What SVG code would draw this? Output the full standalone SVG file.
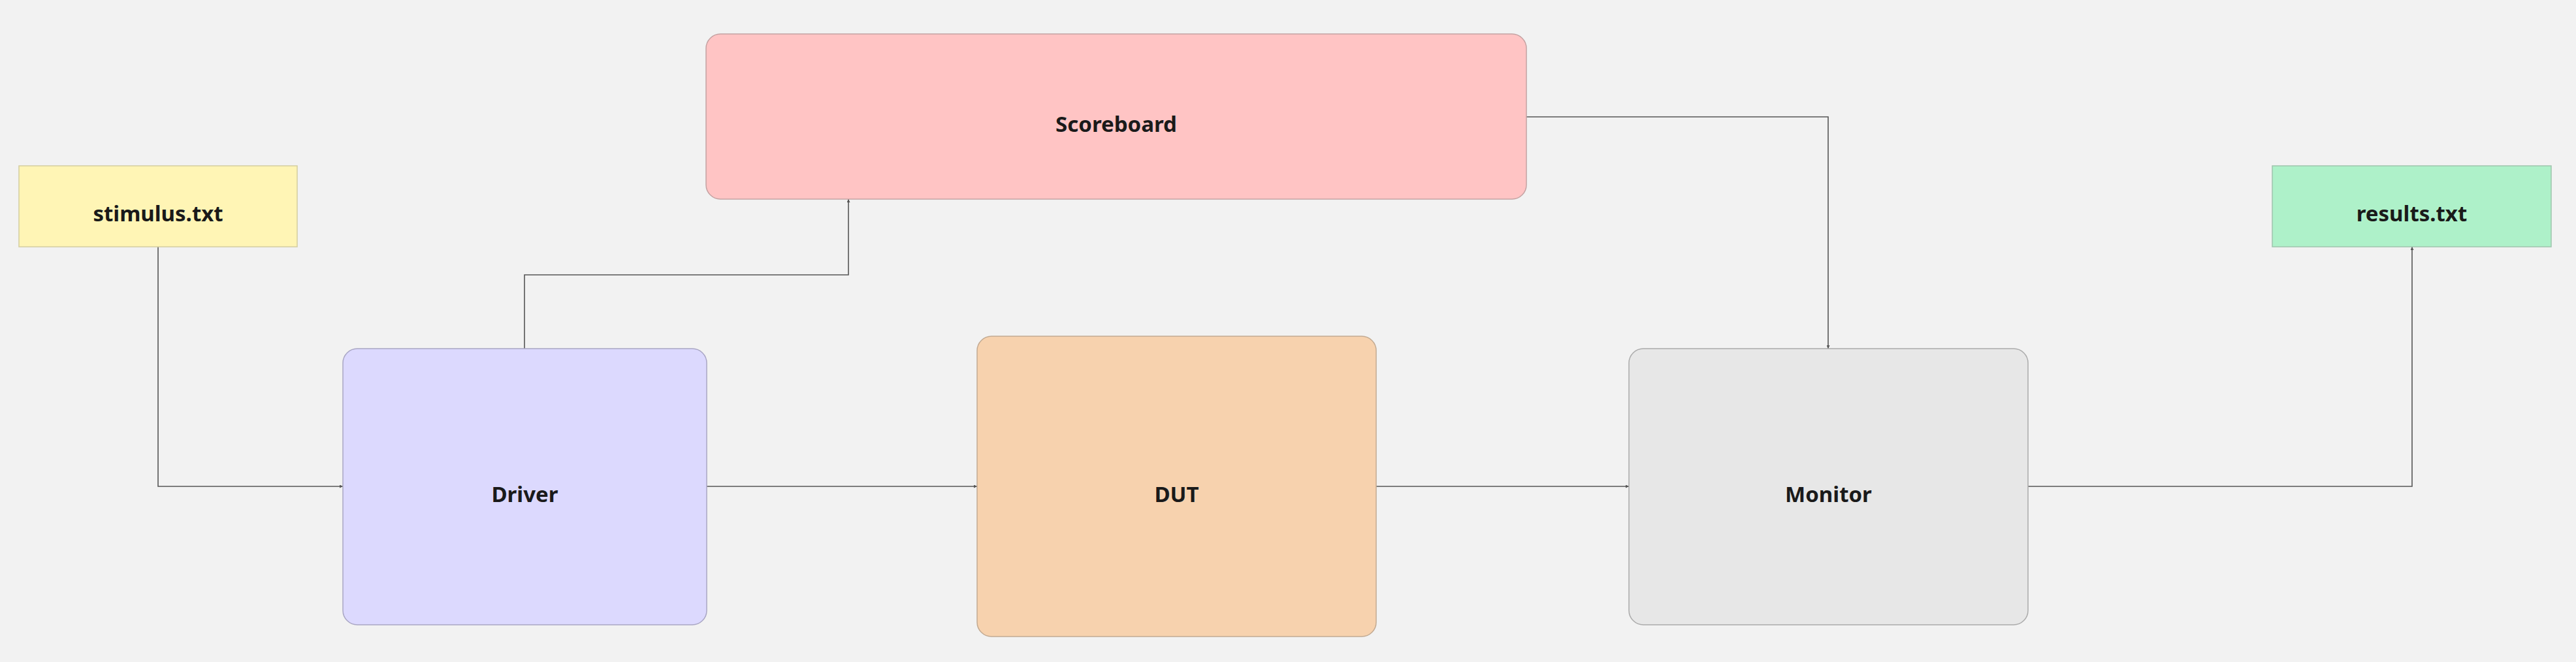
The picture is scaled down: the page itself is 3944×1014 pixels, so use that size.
<svg xmlns="http://www.w3.org/2000/svg" width="3944" height="1014" viewBox="0 0 3944 1014">
<style>
.lbl{font-family:"Noto Sans","Open Sans","Liberation Sans",sans-serif;font-weight:700;font-size:33px;fill:#1a1a1a;text-anchor:middle}
.edge{fill:none;stroke:#555555;stroke-width:1.6}
</style>
<defs>
<marker id="ah" viewBox="0 0 10 10" refX="10" refY="5" markerWidth="5" markerHeight="5" markerUnits="userSpaceOnUse" orient="auto">
<path d="M0,0 L10,5 L0,10 z" fill="#555555"/>
</marker>
</defs>
<rect width="3944" height="1014" fill="#f2f2f2"/>
<g id="connectors">
<path class="edge" d="M242,378 V745 H525" marker-end="url(#ah)"/>
<path class="edge" d="M1082,745 H1496" marker-end="url(#ah)"/>
<path class="edge" d="M2107,745 H2494" marker-end="url(#ah)"/>
<path class="edge" d="M803,534 V421 H1299 V305" marker-end="url(#ah)"/>
<path class="edge" d="M2337,179 H2799 V534" marker-end="url(#ah)"/>
<path class="edge" d="M3105,745 H3693 V378" marker-end="url(#ah)"/>
</g>
<g id="stimulus">
<rect x="29" y="254" width="426" height="124" fill="#fff5b5" stroke="#d4cda0" stroke-width="1.5"/>
<text class="lbl" x="242" y="339">stimulus.txt</text>
</g>
<g id="scoreboard">
<rect x="1081" y="52" width="1256" height="253" rx="22" fill="#ffc4c4" stroke="#c4a2a2" stroke-width="1.5"/>
<text class="lbl" x="1709" y="202">Scoreboard</text>
</g>
<g id="driver">
<rect x="525" y="534" width="557" height="423" rx="22" fill="#dcd9fe" stroke="#a9a6c4" stroke-width="1.5"/>
<text class="lbl" x="803.5" y="769">Driver</text>
</g>
<g id="dut">
<rect x="1496" y="515" width="611" height="460" rx="22" fill="#f7d2ae" stroke="#c2aa92" stroke-width="1.5"/>
<text class="lbl" x="1801.5" y="769">DUT</text>
</g>
<g id="monitor">
<rect x="2494" y="534" width="611" height="423" rx="22" fill="#e7e7e7" stroke="#ababab" stroke-width="1.5"/>
<text class="lbl" x="2799.5" y="769">Monitor</text>
</g>
<g id="results">
<rect x="3479" y="254" width="427" height="124" fill="#aef1c9" stroke="#9fc4ad" stroke-width="1.5"/>
<text class="lbl" x="3692.5" y="339">results.txt</text>
</g>
</svg>
